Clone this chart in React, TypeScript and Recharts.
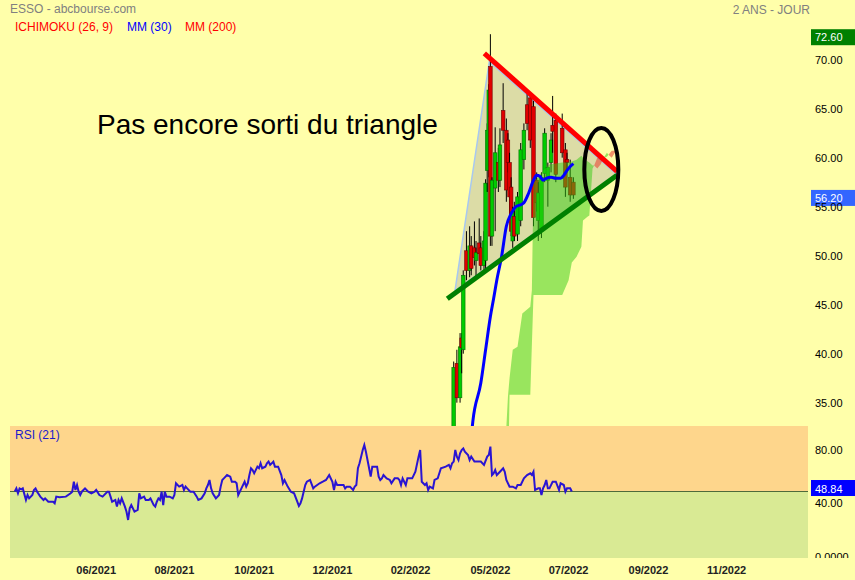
import {
  ComposedChart,
  LineChart,
  Line,
  Bar,
  Area,
  XAxis,
  YAxis,
  ReferenceLine,
  ReferenceArea,
  ReferenceDot,
} from 'recharts'

const FONT = '"Liberation Sans", Arial, Helvetica, sans-serif'
const BG = '#ffffaa'

// x is a trading-day index over the 2 year window (future part holds the cloud)
const dayDomain: [number, number] = [0, 500]
const monthTicks = [54, 103, 153, 202, 251, 301, 350, 400, 449]
const monthLabels = ['06/2021', '08/2021', '10/2021', '12/2021', '02/2022', '05/2022', '07/2022', '09/2022', '11/2022']

const priceDomain: [number, number] = [32.62, 74.05]
const priceTicks = [35, 40, 45, 50, 55, 60, 65, 70]
const highestPrice = 72.6
const lastPrice = 56.2

// [day, open, high, low, close]
const candleRows: [number, number, number, number, number][] = [
  [278, 31.0, 39.2, 30.5, 38.6],
  [280, 39.0, 40.4, 35.0, 35.5],
  [282, 35.5, 42.1, 35.0, 40.7],
  [283, 41.6, 42.1, 38.0, 40.6],
  [284, 40.4, 48.5, 40.0, 48.0],
  [286, 50.5, 52.5, 47.5, 48.5],
  [288, 48.5, 53.0, 47.8, 51.0],
  [289, 51.0, 52.0, 48.0, 48.7],
  [291, 50.8, 53.5, 49.0, 49.8],
  [292, 49.5, 51.5, 47.6, 50.3],
  [294, 51.3, 53.8, 49.5, 50.2],
  [295, 50.8, 52.0, 48.5, 49.0],
  [297, 49.0, 52.5, 48.5, 51.5],
  [298, 49.5, 57.8, 48.5, 57.4],
  [299, 58.7, 63.5, 56.5, 62.8],
  [300, 58.7, 67.5, 58.0, 66.9],
  [301, 69.3, 72.6, 51.0, 52.0],
  [302, 52.0, 58.0, 51.0, 57.7],
  [304, 56.9, 63.1, 52.5, 60.5],
  [306, 59.5, 61.0, 56.5, 57.7],
  [307, 57.7, 63.0, 57.0, 61.3],
  [309, 64.8, 67.6, 61.5, 62.8],
  [311, 62.8, 64.0, 55.5, 56.7],
  [312, 61.8, 62.5, 58.5, 59.5],
  [313, 59.5, 60.5, 54.0, 56.0],
  [314, 57.0, 58.0, 52.0, 52.5],
  [315, 51.5, 55.0, 50.8, 54.5],
  [316, 54.0, 55.5, 51.5, 52.0],
  [318, 52.2, 56.5, 51.5, 56.0],
  [320, 53.6, 61.5, 53.0, 60.8],
  [322, 59.8, 63.5, 58.8, 62.8],
  [324, 65.4, 66.5, 62.8, 63.5],
  [326, 66.1, 66.5, 61.0, 61.8],
  [328, 65.2, 65.8, 53.0, 53.9],
  [330, 57.7, 58.5, 54.5, 55.4],
  [331, 53.6, 57.5, 51.5, 56.4],
  [333, 52.5, 58.5, 51.8, 58.0],
  [335, 58.4, 63.0, 57.5, 62.5],
  [337, 57.7, 59.5, 55.0, 59.0],
  [339, 59.5, 62.5, 58.5, 61.8],
  [340, 63.3, 66.3, 60.5, 62.7],
  [342, 63.8, 64.5, 57.5, 58.3],
  [346, 63.0, 64.5, 60.0, 60.5],
  [348, 60.8, 61.5, 56.0, 57.0],
  [349, 59.8, 60.5, 58.5, 59.5],
  [351, 58.0, 59.8, 55.5, 56.2],
  [353, 57.5, 58.0, 55.8, 56.2],
]

// moving average 30
const mm30Days = [289, 290, 295, 298, 301, 303, 305, 308, 311, 314, 317, 320, 322, 325, 328, 330, 332, 334, 336, 339, 342, 345, 347, 349, 351, 353]
const mm30Values = [31.5, 33.1, 37.0, 40.4, 43.8, 45.6, 47.5, 49.9, 53.0, 54.3, 55.0, 55.2, 55.4, 56.4, 57.7, 58.2, 58.1, 57.7, 57.9, 58.0, 57.9, 57.9, 58.2, 58.7, 59.1, 59.4]

// ichimoku cloud (senkou spans, already shifted forward)
const cloudDays = [300, 311, 312, 313, 315, 318, 321, 326, 327, 328, 333, 338, 346, 350, 352, 355, 358, 359, 362, 363, 365, 366, 368, 370, 372, 374, 375, 377, 379, 380]
const senkouA = [28.0, 32.5, 35.6, 37.5, 40.4, 40.7, 44.1, 44.8, 46.5, 57.4, 58.5, 59.3, 59.5, 59.5, 59.6, 59.8, 60.2, 60.0, 59.6, 59.5, 59.2, 59.2, 58.9, 59.3, 60.0, 60.5, 60.3, 60.0, 60.5, 60.6]
const senkouB = [24.0, 26.0, 26.5, 35.8, 35.8, 35.8, 35.8, 35.8, 41.0, 46.0, 46.0, 46.0, 46.0, 47.5, 49.3, 49.9, 50.9, 53.6, 54.0, 54.1, 58.9, 59.2, 60.0, 60.0, 60.0, 60.1, 60.3, 60.7, 60.7, 60.6]

// hand drawn annotations (day, price)
const triangleLeft = { day: 278.8, price: 46.4 }
const triangleTop = { day: 300.3, price: 69.8 }
const triangleRight = { day: 380.1, price: 58.3 }
const resistanceLine = [{ x: 297.2, y: 70.65 }, { x: 380.3, y: 58.6 }]
const supportLine = [{ x: 274, y: 45.6 }, { x: 380.3, y: 58.2 }]
const circleCenter = { day: 370.5, price: 58.8 }

const rsiDomain: [number, number] = [-1.05, 98]
const rsiTicks = [0, 40, 80]
const rsiLast = 48.84

// [day, rsi]
const rsiReadings: [number, number][] = [
  [3, 48.8], [4, 51.2], [5, 47.5], [6, 51.2], [7, 50.5], [8, 51.2], [10, 42.5], [11, 46.2], [12, 43.7], [14, 46.2],
  [15, 50.0], [16, 51.2], [17, 48.7], [19, 45.0], [21, 42.5], [22, 43.7], [24, 41.2], [27, 41.2], [28, 40.0], [29, 45.0],
  [31, 44.5], [35, 45.0], [38, 47.5], [39, 48.7], [40, 56.2], [41, 50.0], [42, 53.7], [43, 48.7], [44, 46.2], [45, 48.7],
  [47, 51.2], [49, 48.7], [51, 47.5], [53, 48.7], [54, 50.0], [56, 46.2], [58, 45.0], [61, 48.7], [62, 48.7], [63, 45.0],
  [64, 41.2], [66, 42.5], [67, 37.5], [68, 42.5], [69, 40.0], [70, 43.7], [72, 37.5], [73, 33.7], [74, 27.5], [75, 36.2],
  [76, 38.7], [78, 33.7], [80, 35.0], [81, 47.5], [82, 43.7], [84, 45.0], [85, 42.5], [87, 42.5], [88, 43.7], [90, 38.7],
  [91, 37.5], [92, 41.2], [93, 43.7], [94, 42.5], [95, 48.7], [96, 38.7], [97, 48.7], [98, 45.0], [100, 45.0], [102, 43.7],
  [103, 46.2], [104, 55.0], [106, 52.5], [108, 53.7], [109, 50.0], [110, 52.5], [111, 51.2], [113, 48.7], [115, 48.7], [117, 45.0],
  [118, 42.5], [120, 43.7], [122, 47.5], [123, 51.2], [124, 53.7], [125, 57.5], [126, 51.2], [127, 47.5], [129, 43.7], [131, 46.2],
  [132, 52.5], [133, 57.5], [134, 58.7], [136, 61.2], [138, 60.0], [139, 56.2], [141, 56.2], [142, 55.0], [143, 46.2], [145, 51.2],
  [147, 56.2], [148, 52.5], [149, 55.0], [150, 61.2], [151, 66.3], [152, 65.0], [153, 62.5], [155, 67.5], [156, 66.3], [157, 70.0],
  [158, 66.3], [160, 67.5], [161, 70.0], [162, 71.3], [163, 68.8], [164, 70.0], [165, 71.3], [166, 67.5], [168, 67.5], [170, 61.2],
  [171, 55.0], [172, 57.5], [174, 52.5], [176, 48.7], [178, 47.5], [180, 41.2], [181, 38.0], [182, 40.0], [183, 43.7], [184, 48.7],
  [185, 53.7], [186, 56.2], [188, 57.5], [190, 51.2], [191, 52.5], [194, 55.0], [196, 56.2], [198, 57.5], [200, 61.2], [202, 56.2],
  [203, 50.0], [204, 56.2], [205, 53.7], [209, 53.7], [210, 51.2], [211, 52.5], [213, 52.5], [215, 50.0], [216, 52.5], [217, 53.7],
  [218, 66.3], [219, 70.0], [220, 75.0], [221, 80.0], [222, 83.7], [223, 78.7], [224, 72.5], [225, 66.3], [226, 60.0], [227, 67.5],
  [230, 67.5], [231, 60.0], [232, 57.5], [233, 58.7], [234, 61.2], [236, 58.7], [238, 57.5], [239, 55.0], [241, 58.7], [243, 58.7],
  [244, 57.5], [245, 53.7], [246, 58.7], [247, 56.2], [248, 53.7], [249, 58.7], [252, 58.7], [254, 63.7], [256, 75.0], [257, 80.0],
  [258, 56.2], [260, 53.7], [261, 55.0], [262, 50.0], [263, 52.5], [265, 51.2], [266, 57.5], [268, 58.7], [269, 62.5], [270, 66.3],
  [273, 67.5], [275, 68.8], [276, 66.3], [277, 70.0], [278, 71.3], [279, 80.0], [280, 75.0], [281, 72.5], [282, 77.5], [283, 80.0],
  [284, 81.2], [285, 78.7], [287, 76.2], [288, 72.5], [289, 75.0], [291, 71.3], [295, 71.3], [297, 68.8], [299, 75.0], [300, 76.2],
  [301, 82.5], [302, 61.2], [303, 62.5], [304, 65.0], [305, 61.2], [307, 63.7], [309, 66.3], [310, 63.7], [311, 57.5], [313, 52.5],
  [315, 52.5], [317, 51.2], [318, 53.7], [320, 53.7], [322, 58.7], [324, 61.2], [326, 62.5], [327, 61.2], [328, 63.7], [329, 50.0],
  [331, 51.2], [332, 51.2], [333, 46.2], [334, 51.2], [335, 53.7], [336, 57.5], [337, 51.2], [338, 51.2], [340, 56.2], [342, 56.2],
  [344, 50.0], [345, 55.0], [347, 53.7], [348, 48.7], [349, 51.2], [351, 51.2], [352, 48.8],
]

const candles = candleRows.map(([day, open, high, low, close]) => ({ day, open, high, low, close }))
const mm30 = mm30Days.map((day, i) => ({ day, value: mm30Values[i] }))
const cloudUp = cloudDays.map((day, i) => {
  const a = senkouA[i]
  const b = senkouB[i]
  return { day, range: a >= b ? [b, a] : [a, a] }
})
const cloudDown = cloudDays.map((day, i) => {
  const a = senkouA[i]
  const b = senkouB[i]
  return { day, range: a < b ? [a, b] : [b, b] }
})
const lowerEdgeAt = (day: number) =>
  triangleLeft.price +
  ((triangleRight.price - triangleLeft.price) * (day - triangleLeft.day)) / (triangleRight.day - triangleLeft.day)
const triangle = [
  { day: triangleLeft.day, range: [triangleLeft.price, triangleLeft.price] },
  { day: triangleTop.day, range: [lowerEdgeAt(triangleTop.day), triangleTop.price] },
  { day: triangleRight.day, range: [triangleRight.price, triangleRight.price] },
]
const rsi = rsiReadings.map(([day, value]) => ({ day, value }))

// RSI panel plot area ends 132px below the top of its svg
const RSI_PLOT_BOTTOM = 132

function Candle(props: any) {
  const { x, y, width, height, payload } = props
  if (payload == null || height == null) return null
  const top = Math.min(y, y + height)
  const h = Math.abs(height)
  const { open, high, low, close } = payload
  const ratio = high === low ? 0 : h / (high - low)
  const yOf = (v: number) => top + (high - v) * ratio
  const cx = x + width / 2
  const up = close >= open
  const bodyTop = yOf(Math.max(open, close))
  const bodyH = Math.max(1, Math.abs(yOf(open) - yOf(close)))
  return (
    <g>
      <line x1={cx} x2={cx} y1={top} y2={top + h} stroke="#000" strokeWidth={1} />
      <rect
        x={cx - 1.8}
        y={bodyTop}
        width={3.6}
        height={bodyH}
        fill={up ? '#00cc00' : '#e00000'}
        stroke={up ? '#007000' : '#700000'}
        strokeWidth={0.6}
      />
    </g>
  )
}

function PriceTick(props: any) {
  const { x, y, payload } = props
  return (
    <text x={x} y={y} dy={4} fontSize={11} fontFamily={FONT} fill="#000" textAnchor="start">
      {Number(payload.value).toFixed(2)}
    </text>
  )
}

function RsiTick(props: any) {
  const { x, y, payload } = props
  const v = Number(payload.value)
  const id = `rsi-tick-clip-${v}`
  return (
    <g>
      <defs>
        <clipPath id={id}>
          <rect x={x - 5} y={0} width={60} height={RSI_PLOT_BOTTOM} />
        </clipPath>
      </defs>
      <text x={x} y={y} dy={4} fontSize={11} fontFamily={FONT} fill="#000" textAnchor="start" clipPath={`url(#${id})`}>
        {v === 0 ? '0.0000' : v.toFixed(2)}
      </text>
    </g>
  )
}

function MonthTick(props: any) {
  const { x, y, payload } = props
  const idx = monthTicks.indexOf(payload.value)
  return (
    <text x={x} y={y} dy={16} fontSize={11} fontWeight="bold" fontFamily={FONT} fill="#222" textAnchor="middle">
      {monthLabels[idx]}
    </text>
  )
}

function valueTag(text: string, color: string, top: number, baseline: number) {
  return (props: any) => {
    const vb = props.viewBox || {}
    const left = vb.x + vb.width + 3
    return (
      <g>
        <rect x={left} y={vb.y + top} width={855 - left} height={16} fill={color} />
        <text x={left + 4} y={vb.y + baseline} fontSize={11} fontFamily={FONT} fill="#fff">
          {text}
        </text>
      </g>
    )
  }
}

function Ellipse(props: any) {
  const { cx, cy } = props
  if (cx == null || cy == null) return null
  return <ellipse cx={cx} cy={cy} rx={17} ry={41.5} fill="none" stroke="#000" strokeWidth={4} />
}

export default function App() {
  return (
    <div style={{ position: 'absolute', left: 0, top: 0, width: 855, height: 580, background: BG, overflow: 'hidden' }}>
      <div style={{ position: 'absolute', left: 0, top: 0 }}>
        <ComposedChart width={855} height={426} data={candles} margin={{ top: 20, right: 0, bottom: 0, left: 10 }}>
          <XAxis dataKey="day" type="number" domain={dayDomain} allowDataOverflow hide />
          <YAxis
            orientation="right"
            width={47}
            type="number"
            domain={priceDomain}
            allowDataOverflow
            ticks={priceTicks}
            tick={<PriceTick />}
            tickLine={false}
            axisLine={false}
            tickSize={0}
            tickMargin={7}
          />
          <Area
            data={triangle}
            dataKey="range"
            type="linear"
            fill="#8a8aa0"
            fillOpacity={0.3}
            stroke="#a8c8f0"
            strokeWidth={1.5}
            isAnimationActive={false}
            dot={false}
            activeDot={false}
            zIndex={50}
          />
          <Bar dataKey={(d: any) => [d.low, d.high]} barSize={4} shape={<Candle />} isAnimationActive={false} zIndex={300} />
          <Area
            data={cloudUp}
            dataKey="range"
            type="linear"
            fill="#33cc11"
            fillOpacity={0.5}
            stroke="none"
            isAnimationActive={false}
            dot={false}
            activeDot={false}
            zIndex={350}
          />
          <Area
            data={cloudDown}
            dataKey="range"
            type="linear"
            fill="#e84a3a"
            fillOpacity={0.6}
            stroke="none"
            isAnimationActive={false}
            dot={false}
            activeDot={false}
            zIndex={350}
          />
          <Line
            data={mm30}
            dataKey="value"
            type="monotone"
            stroke="#0000ff"
            strokeWidth={3}
            dot={false}
            activeDot={false}
            isAnimationActive={false}
            zIndex={400}
          />
          <ReferenceLine segment={resistanceLine} stroke="#ff0000" strokeWidth={5} ifOverflow="visible" zIndex={500} />
          <ReferenceLine segment={supportLine} stroke="#008000" strokeWidth={5} ifOverflow="visible" zIndex={500} />
          <ReferenceDot
            x={circleCenter.day}
            y={circleCenter.price}
            r={20}
            shape={<Ellipse />}
            ifOverflow="visible"
            zIndex={600}
          />
          <ReferenceLine y={highestPrice} stroke="none" label={valueTag('72.60', '#008000', -5, 7)} zIndex={700} />
          <ReferenceLine y={lastPrice} stroke="none" label={valueTag('56.20', '#3366ff', -5, 7)} zIndex={700} />
        </ComposedChart>
      </div>

      <div style={{ position: 'absolute', left: 0, top: 426 }}>
        <LineChart width={855} height={154} data={rsi} margin={{ top: 0, right: 0, bottom: 0, left: 10 }}>
          <XAxis
            dataKey="day"
            type="number"
            domain={dayDomain}
            allowDataOverflow
            ticks={monthTicks}
            tick={<MonthTick />}
            height={22}
            tickLine={false}
            axisLine={false}
            tickSize={0}
            tickMargin={0}
          />
          <YAxis
            orientation="right"
            width={47}
            type="number"
            domain={rsiDomain}
            allowDataOverflow
            ticks={rsiTicks}
            tick={<RsiTick />}
            tickLine={false}
            axisLine={false}
            tickSize={0}
            tickMargin={7}
          />
          <ReferenceArea x1={dayDomain[0]} x2={dayDomain[1]} y1={rsiLast} y2={rsiDomain[1]} fill="#fed68c" fillOpacity={1} stroke="none" />
          <ReferenceArea x1={dayDomain[0]} x2={dayDomain[1]} y1={rsiDomain[0]} y2={rsiLast} fill="#d9ea94" fillOpacity={1} stroke="none" />
          <ReferenceLine y={rsiLast} stroke="#4f6a3a" strokeWidth={1} />
          <Line
            dataKey="value"
            type="linear"
            stroke="#2a14d2"
            strokeWidth={2}
            dot={false}
            activeDot={false}
            isAnimationActive={false}
          />
          <ReferenceLine y={rsiLast} stroke="none" label={valueTag('48.84', '#0000ff', -11.5, 1)} />
        </LineChart>
      </div>

      <svg width={855} height={580} style={{ position: 'absolute', left: 0, top: 0, pointerEvents: 'none' }}>
        <g fontFamily={FONT}>
          <text x={10} y={13} fontSize={12} fill="#808080">ESSO - abcbourse.com</text>
          <text x={810} y={14} fontSize={12} fill="#808080" textAnchor="end">2 ANS - JOUR</text>
          <text x={15} y={31} fontSize={12} fill="#ff0000">ICHIMOKU (26, 9)</text>
          <text x={127} y={31} fontSize={12} fill="#0000ff">MM (30)</text>
          <text x={185} y={31} fontSize={12} fill="#ff0000">MM (200)</text>
          <text x={97} y={134} fontSize={28} fill="#000">Pas encore sorti du triangle</text>
          <text x={15} y={439} fontSize={12} fill="#1a1acc">RSI (21)</text>
        </g>
      </svg>
    </div>
  )
}
